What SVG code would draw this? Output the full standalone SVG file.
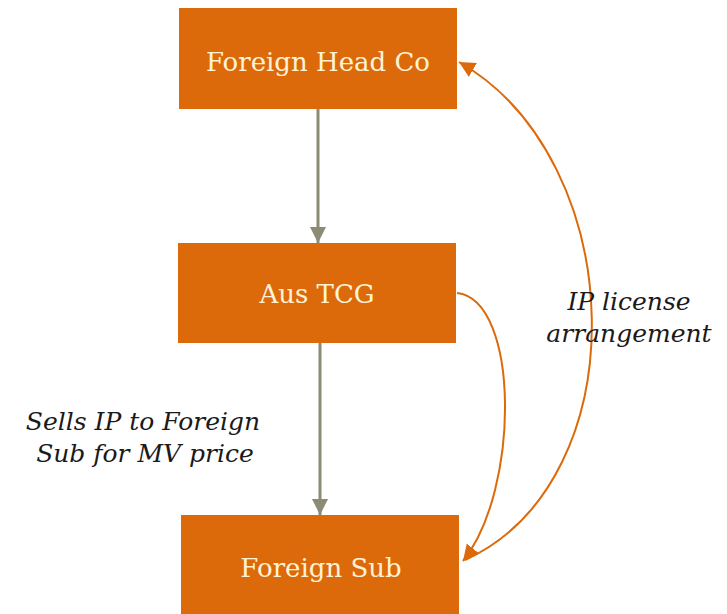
<svg xmlns="http://www.w3.org/2000/svg" width="727" height="614" viewBox="0 0 727 614">
<style>
.box{fill:#DC6A0B}
.bt{font-family:"DejaVu Serif","Liberation Serif",serif;font-size:26px;fill:#FFF3D6;text-anchor:middle}
.lbl{font-family:"DejaVu Serif","Liberation Serif",serif;font-size:25px;font-style:italic;fill:#1A1A1A;text-anchor:middle}
.gl{stroke:#8C8B74;stroke-width:3;fill:none}
.ol{stroke:#DC6A0B;stroke-width:2;fill:none}
</style>
<defs>
<marker id="ga" viewBox="0 0 10 10" refX="10" refY="5" markerWidth="5.5" markerHeight="5.5" orient="auto" markerUnits="strokeWidth">
<path d="M0,0 L10,5 L0,10 z" fill="#8C8B74"/>
</marker>
<marker id="oa" viewBox="0 0 10 10" refX="10" refY="5" markerWidth="8" markerHeight="8" orient="auto" markerUnits="strokeWidth">
<path d="M0,0 L10,5 L0,10 z" fill="#DC6A0B"/>
</marker>
</defs>
<rect width="727" height="614" fill="#FFFFFF"/>
<g id="connectors">
<line class="gl" x1="318" y1="109" x2="318" y2="243" marker-end="url(#ga)"/>
<line class="gl" x1="320" y1="343" x2="320" y2="515" marker-end="url(#ga)"/>
<path class="ol" d="M457,293 C520,300 520,490 463,561" marker-end="url(#oa)"/>
<path class="ol" d="M465,560 C640,480 630,160 459,62" marker-end="url(#oa)"/>
</g>
<g id="node-foreign-head-co">
<rect class="box" x="179" y="8" width="278" height="101"/>
<text class="bt" x="318" y="71">Foreign Head Co</text>
</g>
<g id="node-aus-tcg">
<rect class="box" x="178" y="243" width="278" height="100"/>
<text class="bt" x="317" y="303">Aus TCG</text>
</g>
<g id="node-foreign-sub">
<rect class="box" x="181" y="515" width="278" height="99"/>
<text class="bt" x="321" y="577">Foreign Sub</text>
</g>
<g id="label-sells">
<text class="lbl" x="143" y="430">Sells IP to Foreign</text>
<text class="lbl" x="145" y="462">Sub for MV price</text>
</g>
<g id="label-ip">
<text class="lbl" x="629" y="310">IP license</text>
<text class="lbl" x="629" y="342">arrangement</text>
</g>
</svg>
